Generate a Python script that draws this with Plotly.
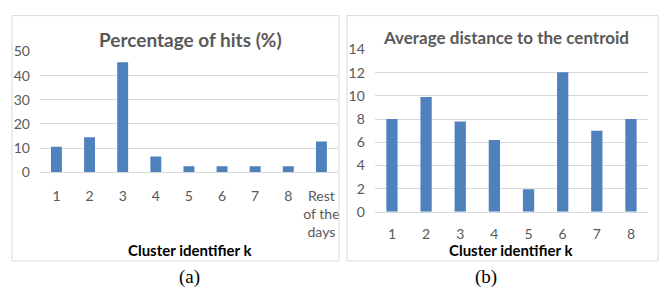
import plotly.graph_objects as go

# ---- data ----
hits_categories = ["1", "2", "3", "4", "5", "6", "7", "8", "Rest<br>of the<br>days"]
hits_values = [10.5, 14.5, 45.5, 6.5, 2.5, 2.5, 2.5, 2.5, 12.7]
hits_ticks = [0, 10, 20, 30, 40, 50]

dist_categories = ["1", "2", "3", "4", "5", "6", "7", "8"]
dist_values = [8.0, 9.9, 7.8, 6.2, 1.95, 12.05, 7.0, 8.0]
dist_ticks = [0, 2, 4, 6, 8, 10, 12, 14]

W, H = 665, 300
BAR = "#4F81BD"
GRID = "#D9D9D9"
TXT = "#595959"
FONT = "Lato"


def px(x):
    return x / W


def py(y):
    return 1 - y / H


fig = go.Figure()
fig.add_trace(go.Bar(x=hits_categories, y=hits_values, marker_color=BAR,
                     marker_line_width=0, xaxis="x", yaxis="y", showlegend=False))
fig.add_trace(go.Bar(x=dist_categories, y=dist_values, marker_color=BAR,
                     marker_line_width=0, xaxis="x2", yaxis="y2", showlegend=False))

axfont = dict(family=FONT, size=14, color=TXT)
common_x = dict(showgrid=False, zeroline=False, showline=True, linecolor=GRID,
                linewidth=1, ticks="", tickfont=axfont, fixedrange=True)
common_y = dict(showgrid=True, gridcolor=GRID, gridwidth=1, zeroline=False,
                showline=False, ticks="", tickfont=axfont, fixedrange=True)


def ann(text, x, y, size, color, family=FONT):
    return dict(text=text, x=px(x), y=py(y), xref="paper", yref="paper",
                xanchor="center", yanchor="middle", showarrow=False,
                font=dict(family=family, size=size, color=color))


fig.update_layout(
    width=W, height=H,
    margin=dict(l=0, r=0, t=0, b=0),
    paper_bgcolor="white", plot_bgcolor="white",
    bargap=0.67,
    xaxis=dict(domain=[px(40), px(339)], anchor="y", ticklabelstandoff=11, **common_x),
    yaxis=dict(domain=[py(173), py(45)], range=[0, 50], tickvals=hits_ticks,
               anchor="x", ticklabelstandoff=9, **common_y),
    xaxis2=dict(domain=[px(376), px(650)], anchor="y2", ticklabelstandoff=9, **common_x),
    yaxis2=dict(domain=[py(215), py(43)], range=[0, 14], tickvals=dist_ticks,
                anchor="x2", ticklabelstandoff=9, **common_y),
    shapes=[
        dict(type="rect", xref="paper", yref="paper", x0=px(12), x1=px(340),
             y0=py(267), y1=py(7), line=dict(color=GRID, width=1)),
        dict(type="rect", xref="paper", yref="paper", x0=px(348), x1=px(660),
             y0=py(267), y1=py(7), line=dict(color=GRID, width=1)),
    ],
    annotations=[
        ann("<b>Percentage of hits (%)</b>", 191, 32, 19, TXT),
        ann("<b>Average distance to the centroid</b>", 508, 30, 17, TXT),
        ann("<b>Cluster identifier k</b>", 191, 256, 15, "#000000"),
        ann("<b>Cluster identifier k</b>", 513, 256, 15, "#000000"),
        ann("(a)", 190, 284, 19, "#000000", "Liberation Serif"),
        ann("(b)", 487, 284, 19, "#000000", "Liberation Serif"),
    ],
)

fig.write_html("out.html", config={"displayModeBar": False},
               post_script="document.body.style.margin='0';document.body.style.padding='0';")
